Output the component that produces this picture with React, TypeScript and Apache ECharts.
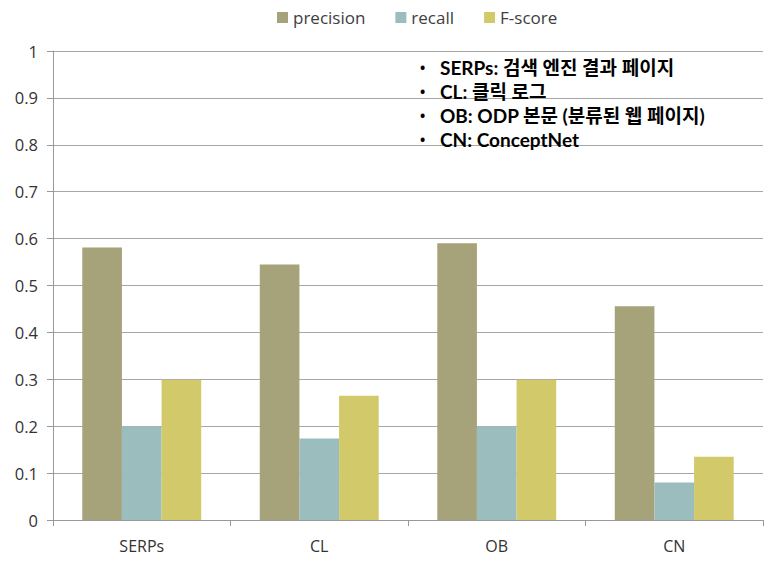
import React, { useEffect, useRef } from "react";
import * as echarts from "echarts";

const categories = ["SERPs", "CL", "OB", "CN"];
const precision = [0.581, 0.545, 0.59, 0.456];
const recall = [0.2, 0.174, 0.2, 0.08];
const fscore = [0.299, 0.265, 0.299, 0.135];
const seriesNames = ["precision", "recall", "F-score"];
const yTicks = ["0", "0.1", "0.2", "0.3", "0.4", "0.5", "0.6", "0.7", "0.8", "0.9", "1"];
const notes = [
  "SERPs: 검색 엔진 결과 페이지",
  "CL: 클릭 로그",
  "OB: ODP 본문 (분류된 웹 페이지)",
  "CN: ConceptNet",
];

const colors = ["#A6A27A", "#9BBDBD", "#D2CA6A"];
const FONT = "'Open Sans', 'Noto Sans', sans-serif";
const KFONT = "Lato, 'Noto Sans CJK KR', sans-serif";

export default function App() {
  const ref = useRef<HTMLDivElement>(null);
  useEffect(() => {
    if (!ref.current) return;
    const chart = echarts.init(ref.current, undefined, { renderer: "svg" });
    const data = [precision, recall, fscore];
    const noteText = notes.map((t) => `{b|•}{t|${t}}`).join("\n");
    chart.setOption({
      animation: false,
      color: colors,
      legend: {
        top: 4,
        left: 272,
        data: seriesNames,
        icon: "rect",
        itemWidth: 11,
        itemHeight: 11,
        itemGap: 30,
        textStyle: { fontFamily: FONT, fontSize: 17, color: "#404040" },
      },
      grid: { left: 53, right: 14, top: 51, bottom: 42 },
      xAxis: {
        type: "category",
        data: categories,
        axisLine: { lineStyle: { color: "#999", width: 1 } },
        axisTick: { show: true, length: 6, lineStyle: { color: "#999" } },
        axisLabel: { fontFamily: FONT, fontSize: 16, color: "#333", margin: 18 },
      },
      yAxis: {
        type: "value",
        min: 0,
        max: 1,
        interval: 0.1,
        axisLine: { show: true, lineStyle: { color: "#999", width: 1 } },
        axisTick: { show: true, length: 6, lineStyle: { color: "#999" } },
        axisLabel: {
          fontFamily: FONT,
          fontSize: 16.5,
          color: "#333",
          margin: 15,
          formatter: (v: number) => yTicks[Math.round(v * 10)] ?? String(v),
        },
        splitLine: { lineStyle: { color: "#A6A6A6", width: 1 } },
      },
      series: seriesNames.map((name, i) => ({
        name,
        type: "bar",
        data: data[i],
        barGap: "0%",
        barCategoryGap: "33%",
        itemStyle: { color: colors[i] },
      })),
      graphic: [
        {
          type: "text",
          left: 420,
          top: 58,
          z: 10,
          style: {
            text: noteText,
            fill: "#000",
            rich: {
              b: { font: `bold 14px ${FONT}`, width: 20, lineHeight: 24, fill: "#000" },
              t: { font: `bold 19px ${KFONT}`, lineHeight: 24, fill: "#000" },
            },
          },
        },
      ],
    });
    return () => chart.dispose();
  }, []);
  return <div ref={ref} style={{ width: 777, height: 562, margin: -8 }} />;
}
